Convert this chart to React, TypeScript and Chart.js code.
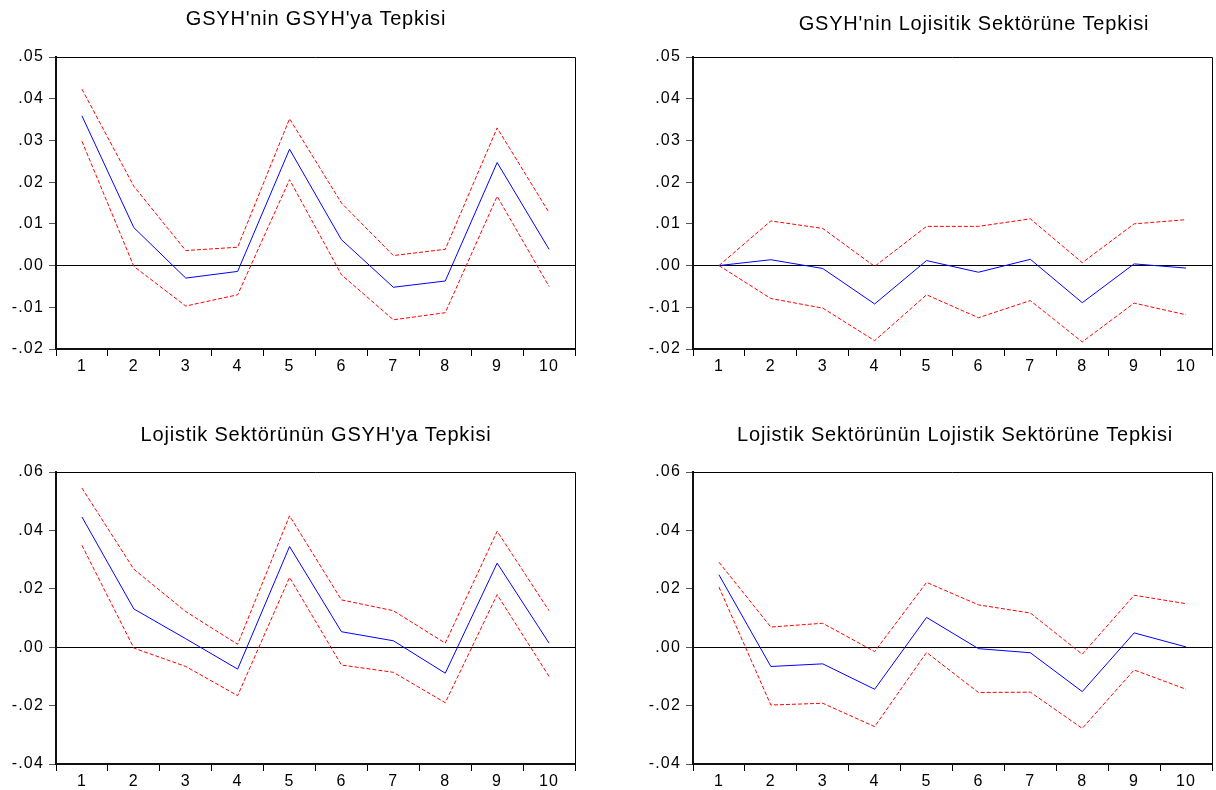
import React, { useEffect, useRef } from "react";
import { Chart, registerables } from "chart.js";

Chart.register(...registerables);

const PERIODS = ["1", "2", "3", "4", "5", "6", "7", "8", "9", "10"];

// GSYH'nin GSYH'ya Tepkisi
const GG_RESP = [0.0359, 0.0091, -0.003, -0.0014, 0.0279, 0.0062, -0.0052, -0.0037, 0.0247, 0.0039];
const GG_UP = [0.0423, 0.019, 0.0036, 0.0044, 0.0352, 0.015, 0.0024, 0.0039, 0.033, 0.0127];
const GG_LO = [0.0298, -0.0002, -0.0097, -0.007, 0.0206, -0.0022, -0.013, -0.0113, 0.0166, -0.005];

// GSYH'nin Lojisitik Sektörüne Tepkisi
const GL_RESP = [0, 0.0014, -0.0007, -0.0092, 0.0012, -0.0016, 0.0015, -0.0089, 0.0004, -0.0006];
const GL_UP = [0, 0.0107, 0.0089, -0.0002, 0.0094, 0.0094, 0.0112, 0.0007, 0.01, 0.011];
const GL_LO = [0, -0.0079, -0.0102, -0.018, -0.007, -0.0125, -0.0084, -0.0183, -0.009, -0.0118];

// Lojistik Sektörünün GSYH'ya Tepkisi
const LG_RESP = [0.0446, 0.0131, 0.0029, -0.0075, 0.0345, 0.0053, 0.0022, -0.0089, 0.0288, 0.0014];
const LG_UP = [0.0545, 0.0267, 0.0122, 0.001, 0.045, 0.0162, 0.0125, 0.0014, 0.0397, 0.0125];
const LG_LO = [0.0349, -0.0003, -0.0066, -0.0166, 0.0239, -0.0061, -0.0086, -0.019, 0.018, -0.01];

// Lojistik Sektörünün Lojistik Sektörüne Tepkisi
const LL_RESP = [0.0248, -0.0066, -0.0057, -0.0144, 0.0102, -0.0005, -0.0019, -0.0152, 0.0049, 0.0001];
const LL_UP = [0.0291, 0.0069, 0.0082, -0.0015, 0.0222, 0.0145, 0.0117, -0.0024, 0.0178, 0.0149];
const LL_LO = [0.0206, -0.0198, -0.0192, -0.0272, -0.0018, -0.0155, -0.0154, -0.0278, -0.0078, -0.0144];

const TITLES = [
  "GSYH'nin GSYH'ya Tepkisi",
  "GSYH'nin Lojisitik Sektörüne Tepkisi",
  "Lojistik Sektörünün GSYH'ya Tepkisi",
  "Lojistik Sektörünün Lojistik Sektörüne Tepkisi",
];

const FONT = '"Liberation Sans", Arial, sans-serif';

type PanelDef = {
  title: string;
  resp: number[];
  up: number[];
  lo: number[];
  yMin: number;
  yMax: number;
  step: number;
  canvas: { x: number; y: number; w: number; h: number };
  plot: { l: number; r: number; t: number; b: number };
  titlePos: { x: number; y: number };
};

const PANELS: PanelDef[] = [
  {
    title: TITLES[0], resp: GG_RESP, up: GG_UP, lo: GG_LO, yMin: -0.02, yMax: 0.05, step: 0.01,
    canvas: { x: 0, y: 0, w: 608, h: 400 }, plot: { l: 56, r: 575, t: 57, b: 349 }, titlePos: { x: 316, y: 19 },
  },
  {
    title: TITLES[1], resp: GL_RESP, up: GL_UP, lo: GL_LO, yMin: -0.02, yMax: 0.05, step: 0.01,
    canvas: { x: 608, y: 0, w: 608, h: 400 }, plot: { l: 693, r: 1212, t: 57, b: 349 }, titlePos: { x: 974, y: 24 },
  },
  {
    title: TITLES[2], resp: LG_RESP, up: LG_UP, lo: LG_LO, yMin: -0.04, yMax: 0.06, step: 0.02,
    canvas: { x: 0, y: 400, w: 608, h: 390 }, plot: { l: 56, r: 575, t: 472, b: 764 }, titlePos: { x: 316, y: 435 },
  },
  {
    title: TITLES[3], resp: LL_RESP, up: LL_UP, lo: LL_LO, yMin: -0.04, yMax: 0.06, step: 0.02,
    canvas: { x: 608, y: 400, w: 608, h: 390 }, plot: { l: 693, r: 1212, t: 472, b: 764 }, titlePos: { x: 955, y: 435 },
  },
];

function fmt(v: number): string {
  const r = Math.round(v * 100) / 100;
  let s = r.toFixed(2);
  if (Math.abs(r) < 1e-9) return ".00";
  s = s.replace("0.", ".");
  return s;
}

function Panel({ def }: { def: PanelDef }) {
  const ref = useRef<HTMLCanvasElement | null>(null);
  useEffect(() => {
    const canvas = ref.current;
    if (!canvas) return;
    const c = def.canvas;
    const p = def.plot;
    const deco = {
      id: "deco",
      beforeDraw(chart: any) {
        chart.ctx.letterSpacing = "1.2px";
      },
      afterDraw(chart: any) {
        const { ctx, chartArea } = chart;
        const { left, right, top, bottom } = chartArea;
        ctx.save();
        ctx.strokeStyle = "#000";
        ctx.lineWidth = 1;
        ctx.beginPath();
        ctx.moveTo(left, Math.round(top) + 0.5);
        ctx.lineTo(Math.round(right) + 0.5, Math.round(top) + 0.5);
        ctx.lineTo(Math.round(right) + 0.5, bottom);
        ctx.stroke();
        ctx.letterSpacing = "0.8px";
        ctx.font = "20px " + FONT;
        ctx.fillStyle = "#000";
        ctx.textAlign = "center";
        ctx.textBaseline = "middle";
        ctx.fillText(def.title, def.titlePos.x - c.x, def.titlePos.y - c.y);
        ctx.restore();
      },
    };
    const chart = new Chart(canvas, {
      type: "line",
      data: {
        labels: PERIODS,
        datasets: [
          {
            data: def.up, borderColor: "#ff0000", borderWidth: 1, borderDash: [4, 2],
            pointRadius: 0, tension: 0, fill: false,
          },
          {
            data: def.lo, borderColor: "#ff0000", borderWidth: 1, borderDash: [4, 2],
            pointRadius: 0, tension: 0, fill: false,
          },
          {
            data: def.resp, borderColor: "#0000ff", borderWidth: 1,
            pointRadius: 0, tension: 0, fill: false,
          },
        ],
      },
      options: {
        animation: false,
        responsive: false,
        maintainAspectRatio: false,
        events: [],
        layout: {
          padding: { left: 0, top: p.t - c.y, right: c.x + c.w - p.r, bottom: 0 },
        },
        plugins: {
          legend: { display: false },
          title: { display: false },
          tooltip: { enabled: false },
        },
        scales: {
          x: {
            type: "category",
            offset: true,
            grid: {
              offset: true,
              drawOnChartArea: false,
              drawTicks: true,
              tickLength: 7,
              tickColor: "#000",
            },
            border: { display: true, color: "#111", width: 2 },
            ticks: {
              color: "#000",
              font: { family: FONT, size: 16 },
              padding: 1,
              maxRotation: 0,
              autoSkip: false,
            },
            afterFit(scale: any) {
              scale.height = c.y + c.h - p.b;
            },
          },
          y: {
            min: def.yMin,
            max: def.yMax,
            grid: {
              drawOnChartArea: true,
              drawTicks: true,
              tickLength: 7,
              tickColor: "#555",
              lineWidth: 1,
              color: (ctx: any) =>
                ctx.tick && Math.abs(ctx.tick.value) < 1e-9 ? "#000" : "rgba(0,0,0,0)",
            },
            border: { display: true, color: "#111", width: 2 },
            ticks: {
              stepSize: def.step,
              color: "#000",
              font: { family: FONT, size: 16 },
              padding: 5,
              callback: (v: any) => fmt(Number(v)),
            },
            afterFit(scale: any) {
              scale.width = p.l - c.x;
            },
          },
        },
      },
      plugins: [deco],
    } as any);
    return () => chart.destroy();
  }, [def]);
  return (
    <canvas
      ref={ref}
      width={def.canvas.w}
      height={def.canvas.h}
      style={{
        position: "absolute",
        left: def.canvas.x,
        top: def.canvas.y,
        width: def.canvas.w,
        height: def.canvas.h,
      }}
    />
  );
}

export default function App() {
  return (
    <div
      style={{
        position: "absolute",
        left: 0,
        top: 0,
        width: 1216,
        height: 790,
        background: "#fff",
        overflow: "hidden",
      }}
    >
      {PANELS.map((d, i) => (
        <Panel key={i} def={d} />
      ))}
    </div>
  );
}
